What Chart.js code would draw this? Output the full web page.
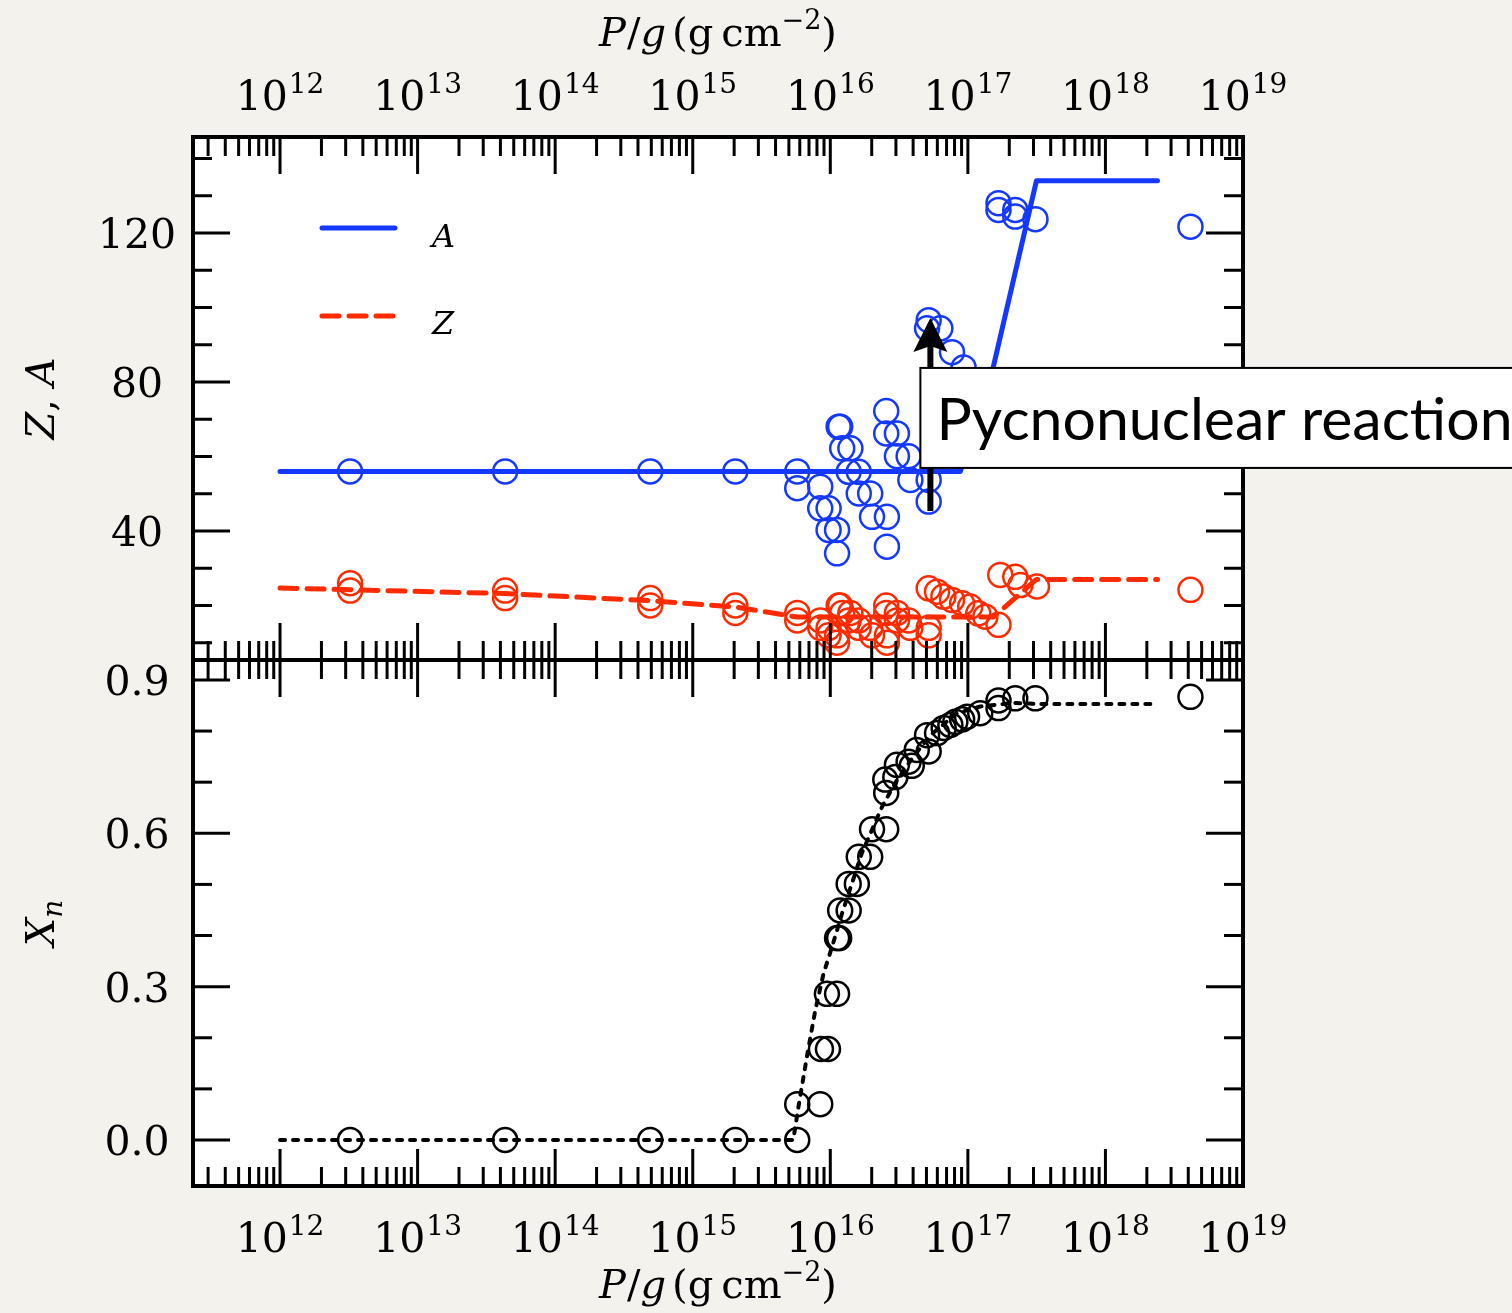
<!DOCTYPE html>
<html>
<head>
<meta charset="utf-8">
<script src="https://cdn.jsdelivr.net/npm/chart.js@4.4.1/dist/chart.umd.min.js"></script>
<style>
  html, body { margin: 0; padding: 0; background: #f3f2ec; }
  canvas { display: block; }
</style>
</head>
<body>
<canvas id="crust" width="1512" height="1313"></canvas>
<script>
// ---- mass number A of the nuclei (circles), pressure P/g in g cm^-2 ----
const aPressure = [3.23e12, 4.33e13, 4.91e14, 2.04e15, 5.75e15, 5.75e15, 8.45e15, 8.45e15,
  9.72e15, 9.72e15, 1.12e16, 1.12e16, 1.15e16, 1.18e16, 1.22e16, 1.40e16, 1.36e16, 1.61e16,
  1.61e16, 1.95e16, 2.01e16, 2.58e16, 2.58e16, 2.55e16, 2.55e16, 3.05e16, 3.05e16, 3.71e16,
  3.82e16, 5.19e16, 5.19e16, 5.19e16, 5.05e16, 6.31e16, 7.67e16, 9.31e16, 1.04e17, 1.23e17,
  1.67e17, 1.67e17, 2.21e17, 2.21e17, 3.10e17, 4.15e18];
const aValue = [56, 56, 56, 56, 56, 51.5, 51.9, 46.1,
  46.1, 40.3, 40.3, 34.0, 68, 68, 62.2, 62.2, 55.9, 55.9,
  50.1, 50.1, 43.8, 43.8, 35.8, 72.2, 66.2, 66.2, 60.1, 60.1,
  53.7, 53.7, 47.9, 96.6, 94.4, 94.4, 88.0, 83.9, 80, 76,
  128, 126.2, 126.2, 124.4, 123.7, 121.7];

// ---- charge number Z of the nuclei (circles) ----
const zPressure = [3.23e12, 3.23e12, 4.33e13, 4.33e13, 4.91e14, 4.91e14, 2.04e15, 2.04e15,
  5.75e15, 5.75e15, 8.45e15, 8.45e15, 9.72e15, 9.72e15, 1.12e16, 1.12e16, 1.15e16, 1.18e16,
  1.22e16, 1.40e16, 1.36e16, 1.61e16, 1.61e16, 1.95e16, 2.01e16, 2.58e16, 2.58e16, 2.55e16,
  2.55e16, 3.05e16, 3.05e16, 3.71e16, 3.82e16, 5.19e16, 5.19e16, 5.19e16, 5.97e16, 6.64e16,
  7.67e16, 9.08e16, 1.04e17, 1.19e17, 1.34e17, 1.67e17, 1.72e17, 2.21e17, 2.41e17, 3.18e17,
  4.15e18];
const zValue = [26, 24, 24, 22, 22, 20, 20, 18,
  18, 16, 16, 14, 14, 12, 12, 10, 20, 20,
  18, 18, 16, 16, 14, 14, 12, 12, 10, 20,
  18, 18, 16, 16, 14, 14, 12, 24.6, 23.7, 22.4,
  21.5, 20.6, 19.7, 17.9, 17.0, 14.8, 28.2, 27.7, 25.5, 25.1,
  24.2];

// ---- free neutron fraction X_n (circles) ----
const xnPressure = [3.23e12, 4.33e13, 4.91e14, 2.04e15, 5.75e15, 5.75e15, 8.45e15, 8.55e15,
  9.62e15, 9.45e15, 1.12e16, 1.12e16, 1.16e16, 1.18e16, 1.36e16, 1.36e16, 1.56e16, 1.61e16,
  1.95e16, 2.01e16, 2.55e16, 2.55e16, 2.51e16, 2.97e16, 3.05e16, 3.71e16, 3.91e16, 4.25e16,
  5.19e16, 5.05e16, 5.97e16, 6.67e16, 7.46e16, 8.11e16, 9.08e16, 9.87e16, 1.23e17, 1.67e17,
  1.67e17, 2.21e17, 3.10e17, 4.15e18];
const xnValue = [0, 0, 0, 0, 0, 0.070, 0.070, 0.178,
  0.178, 0.286, 0.286, 0.395, 0.395, 0.449, 0.449, 0.501, 0.501, 0.554,
  0.554, 0.608, 0.608, 0.679, 0.705, 0.710, 0.734, 0.740, 0.732, 0.763,
  0.760, 0.792, 0.796, 0.806, 0.812, 0.818, 0.823, 0.828, 0.835, 0.845,
  0.860, 0.864, 0.864, 0.867];

// ---- reference model curves ----
const aLineP = [1e12, 8.81e16, 1.53e17, 3.15e17, 2.39e18];
const aLineV = [56, 56, 84, 134, 134];
const zLineP = [1e12, 4.33e13, 4.91e14, 2.04e15, 5.75e15, 1.53e17, 3.15e17, 2.39e18];
const zLineV = [24.7, 23.2, 21.3, 19.6, 16.9, 16.9, 27, 27];
const xnLineP = [1e12, 5.38e15, 5.87e15, 6.76e15, 7.78e15, 8.94e15, 1.03e16, 1.22e16,
  1.44e16, 1.70e16, 2.01e16, 2.38e16, 2.97e16, 4.02e16, 5.34e16, 8.34e16, 1.23e17,
  2.14e17, 3.18e17, 2.39e18];
const xnLineV = [0, 0, 0.065, 0.163, 0.254, 0.326, 0.378, 0.444,
  0.503, 0.562, 0.607, 0.652, 0.699, 0.750, 0.792, 0.835, 0.848,
  0.855, 0.853, 0.853];

// ---- axes ----
const xDecades = [12, 13, 14, 15, 16, 17, 18, 19];
const topMajor = [40, 80, 120];
const botMajor = [0.0, 0.3, 0.6, 0.9];
const botLabels = ['0.0', '0.3', '0.6', '0.9'];

// annotation: arrow from tail to head at one pressure, in data units
const arrowP = 5.34e16, arrowFromA = 45.4, arrowToA = 97.2;
const noteText = 'Pycnonuclear reaction';

const BLUE = '#1438ff';
const RED = '#ff2b00';
const BLACK = '#000000';

const pts = (xs, ys) => xs.map((x, i) => ({ x, y: ys[i] }));

const SERIF = '"DejaVu Serif", "Liberation Serif", serif';

function drawParts(ctx, parts, x, y) {
  let cx = x;
  for (const p of parts) {
    ctx.font = p.f;
    ctx.fillText(p.t, cx, y + (p.dy || 0));
    cx += ctx.measureText(p.t).width + (p.gap || 0);
  }
}
function partsWidth(ctx, parts) {
  let w = 0;
  for (const p of parts) { ctx.font = p.f; w += ctx.measureText(p.t).width + (p.gap || 0); }
  return w;
}
function powParts(n) {
  return [
    { t: '10', f: `41px ${SERIF}`, gap: 1 },
    { t: String(n), f: `28px ${SERIF}`, dy: -17 }
  ];
}

const framePlugin = {
  id: 'frame',
  beforeDatasetsDraw(chart) {
    const ctx = chart.ctx, a = chart.chartArea;
    ctx.save();
    ctx.fillStyle = '#ffffff';
    ctx.fillRect(a.left, a.top, a.right - a.left, a.bottom - a.top);
    ctx.restore();
  },
  afterDatasetsDraw(chart) {
    const ctx = chart.ctx, a = chart.chartArea;
    const sx = chart.scales.x, yt = chart.scales.yTop, yb = chart.scales.yBot;
    const mid = yt.bottom;
    ctx.save();
    ctx.textBaseline = 'alphabetic';

    // legend
    const lx0 = 322, lx1 = 395;
    ctx.lineCap = 'round';
    ctx.strokeStyle = BLUE; ctx.lineWidth = 5; ctx.setLineDash([]);
    ctx.beginPath(); ctx.moveTo(lx0, 228); ctx.lineTo(lx1, 228); ctx.stroke();
    ctx.strokeStyle = RED; ctx.setLineDash([17, 10]);
    ctx.beginPath(); ctx.moveTo(lx0, 316); ctx.lineTo(lx1, 316); ctx.stroke();
    ctx.setLineDash([]);
    ctx.fillStyle = BLACK;
    ctx.font = `italic 32px ${SERIF}`;
    ctx.fillText('A', 432, 247);
    ctx.fillText('Z', 432, 334);

    // panel frames
    ctx.lineCap = 'butt';
    ctx.strokeStyle = BLACK; ctx.lineWidth = 4;
    ctx.strokeRect(a.left, a.top, a.right - a.left, a.bottom - a.top);
    ctx.beginPath(); ctx.moveTo(a.left, mid); ctx.lineTo(a.right, mid); ctx.stroke();

    // x ticks (inward) on all four horizontal edges
    ctx.lineWidth = 3;
    const xEdges = [[a.top, 1], [mid, -1], [mid, 1], [a.bottom, -1]];
    const drawX = (v, len) => {
      const px = sx.getPixelForValue(v);
      if (px < a.left + 1 || px > a.right + 1) return;
      for (const [yy, dir] of xEdges) {
        ctx.beginPath(); ctx.moveTo(px, yy); ctx.lineTo(px, yy + dir * len); ctx.stroke();
      }
    };
    for (let e = 11; e <= 19; e++) {
      drawX(Math.pow(10, e), 37);
      for (let k = 2; k <= 9; k++) drawX(k * Math.pow(10, e), 19);
    }
    // y ticks (inward) on left and right
    const drawY = (scale, v, len) => {
      const py = scale.getPixelForValue(v);
      ctx.beginPath(); ctx.moveTo(a.left, py); ctx.lineTo(a.left + len, py); ctx.stroke();
      ctx.beginPath(); ctx.moveTo(a.right, py); ctx.lineTo(a.right - len, py); ctx.stroke();
    };
    for (let v = 10; v <= 140; v += 10) drawY(yt, v, topMajor.includes(v) ? 37 : 19);
    for (let i = 0; i <= 9; i++) drawY(yb, i / 10, i % 3 === 0 ? 37 : 19);

    // tick labels
    ctx.fillStyle = BLACK;
    ctx.textAlign = 'left';
    for (const n of xDecades) {
      const px = sx.getPixelForValue(Math.pow(10, n));
      const parts = powParts(n);
      const w = partsWidth(ctx, parts);
      drawParts(ctx, parts, px - w / 2, 1252);
      drawParts(ctx, parts, px - w / 2, 110);
    }
    ctx.font = `41px ${SERIF}`;
    ctx.textAlign = 'center';
    for (const v of topMajor) ctx.fillText(String(v), 137, yt.getPixelForValue(v) + 15);
    botMajor.forEach((v, i) => ctx.fillText(botLabels[i], 137, yb.getPixelForValue(v) + 15));

    // axis titles
    ctx.textAlign = 'left';
    const it = `italic 40px ${SERIF}`, up = `40px ${SERIF}`, sup = `27px ${SERIF}`;
    const xTitle = [
      { t: 'P', f: it, gap: 1 }, { t: '/', f: up }, { t: 'g', f: it, gap: 6 },
      { t: '(g\u2009cm', f: up }, { t: '\u22122', f: sup, dy: -17 }, { t: ')', f: up }
    ];
    const xw = partsWidth(ctx, xTitle);
    const xc = (a.left + a.right) / 2;
    drawParts(ctx, xTitle, xc - xw / 2, 1298);
    drawParts(ctx, xTitle, xc - xw / 2, 46);

    const yTitleTop = [{ t: 'Z', f: it }, { t: ', ', f: up }, { t: 'A', f: it }];
    const yTitleBot = [{ t: 'X', f: it }, { t: 'n', f: `italic 28px ${SERIF}`, dy: 8 }];
    for (const [parts, cy] of [[yTitleTop, (a.top + mid) / 2], [yTitleBot, (mid + a.bottom) / 2]]) {
      const w = partsWidth(ctx, parts);
      ctx.save();
      ctx.translate(54, cy);
      ctx.rotate(-Math.PI / 2);
      drawParts(ctx, parts, -w / 2, 0);
      ctx.restore();
    }

    // annotation arrow, then the text box on top of everything
    const ax = sx.getPixelForValue(arrowP);
    const ay0 = yt.getPixelForValue(arrowFromA), ay1 = yt.getPixelForValue(arrowToA);
    ctx.strokeStyle = BLACK; ctx.fillStyle = BLACK;
    ctx.lineWidth = 6; ctx.lineCap = 'butt';
    ctx.beginPath(); ctx.moveTo(ax, ay0); ctx.lineTo(ax, ay1 + 26); ctx.stroke();
    ctx.beginPath();
    ctx.moveTo(ax, ay1);
    ctx.lineTo(ax - 17, ay1 + 34);
    ctx.lineTo(ax, ay1 + 28);
    ctx.lineTo(ax + 17, ay1 + 34);
    ctx.closePath(); ctx.fill();

    const bx = ax - 10, byTop = ay1 + 50, bh = 100;
    ctx.fillStyle = '#ffffff';
    ctx.fillRect(bx, byTop, 700, bh);
    ctx.lineWidth = 2; ctx.strokeStyle = BLACK;
    ctx.strokeRect(bx, byTop, 700, bh);
    ctx.fillStyle = BLACK;
    ctx.font = '59px Lato, "Open Sans", sans-serif';
    ctx.textAlign = 'left';
    ctx.fillText(noteText, bx + 16, byTop + 72);

    ctx.restore();
  }
};

const circle = (label, data, color, axis) => ({
  type: 'scatter', label, data, yAxisID: axis,
  showLine: false, pointStyle: 'circle', pointRadius: 12, pointHoverRadius: 12,
  borderColor: color, backgroundColor: 'rgba(0,0,0,0)', pointBorderWidth: 2.5, borderWidth: 2.5
});

new Chart(document.getElementById('crust'), {
  type: 'scatter',
  data: {
    datasets: [
      { type: 'line', label: 'A', data: pts(aLineP, aLineV), yAxisID: 'yTop',
        borderColor: BLUE, borderWidth: 5, pointRadius: 0, tension: 0, fill: false,
        borderCapStyle: 'round', borderJoinStyle: 'round' },
      { type: 'line', label: 'Z', data: pts(zLineP, zLineV), yAxisID: 'yTop',
        borderColor: RED, borderWidth: 5, pointRadius: 0, tension: 0, fill: false,
        borderDash: [17, 10], borderCapStyle: 'round', borderJoinStyle: 'round' },
      circle('A (nuclei)', pts(aPressure, aValue), BLUE, 'yTop'),
      circle('Z (nuclei)', pts(zPressure, zValue), RED, 'yTop'),
      { type: 'line', label: 'Xn', data: pts(xnLineP, xnLineV), yAxisID: 'yBot',
        borderColor: BLACK, borderWidth: 4, pointRadius: 0, tension: 0, fill: false,
        borderDash: [5, 8], borderCapStyle: 'round' },
      circle('Xn (nuclei)', pts(xnPressure, xnValue), BLACK, 'yBot')
    ]
  },
  options: {
    responsive: false,
    animation: false,
    devicePixelRatio: 1,
    layout: { padding: { left: 0, right: 269, top: 0, bottom: 0 } },
    plugins: { legend: { display: false }, tooltip: { enabled: false } },
    scales: {
      x: {
        type: 'logarithmic', position: 'bottom', min: 2.33e11, max: 1e19,
        ticks: { display: false }, grid: { display: false }, border: { display: false },
        afterFit(s) { s.height = 127; }
      },
      xTop: {
        type: 'logarithmic', position: 'top', min: 2.33e11, max: 1e19,
        ticks: { display: false }, grid: { display: false }, border: { display: false },
        afterFit(s) { s.height = 137; }
      },
      // stacked panels: the lower panel is declared first so the upper one sits on top
      yBot: {
        type: 'linear', position: 'left', stack: 'panels', stackWeight: 526,
        min: -0.09, max: 0.939,
        ticks: { display: false }, grid: { display: false }, border: { display: false },
        afterFit(s) { s.width = 193; }
      },
      yTop: {
        type: 'linear', position: 'left', stack: 'panels', stackWeight: 523,
        min: 5.37, max: 145.77,
        ticks: { display: false }, grid: { display: false }, border: { display: false },
        afterFit(s) { s.width = 193; }
      }
    }
  },
  plugins: [framePlugin]
});
</script>
</body>
</html>
